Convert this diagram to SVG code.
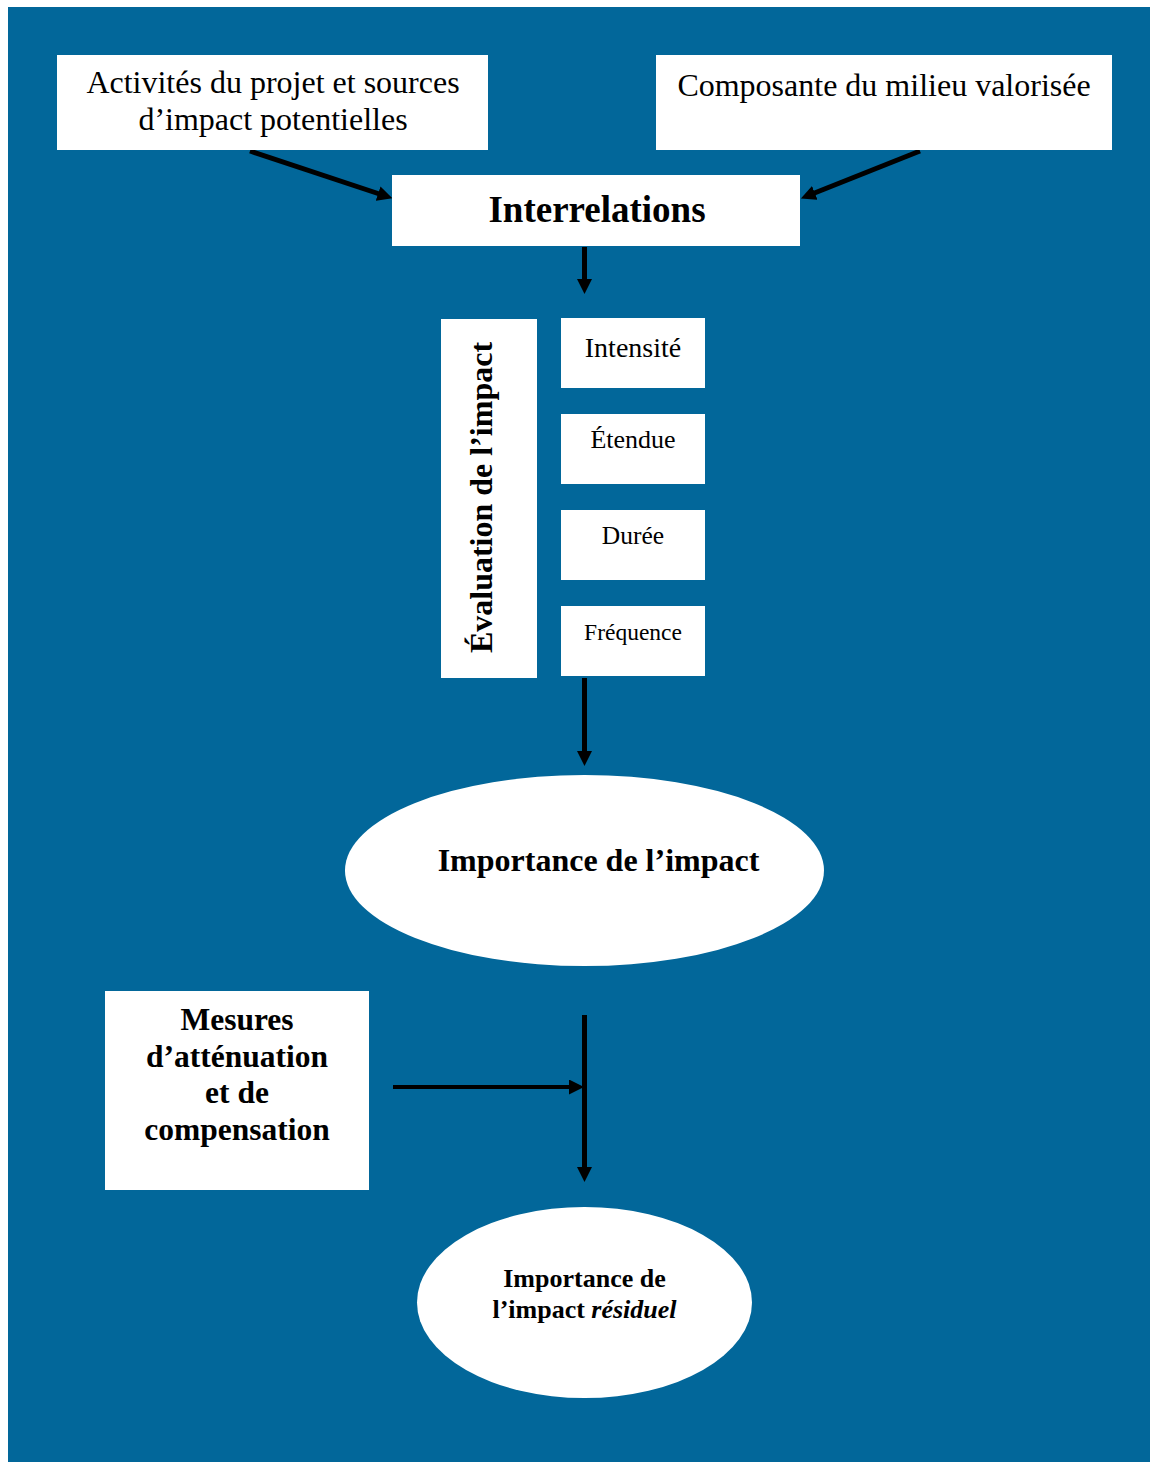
<svg xmlns="http://www.w3.org/2000/svg" width="1150" height="1462" viewBox="0 0 1150 1462">
<defs>
<style>
.box{fill:#ffffff;}
.t{font-family:"Liberation Serif","Times New Roman",serif;fill:#000;text-anchor:middle;}
.b{font-weight:bold;}
.c{stroke:#000;stroke-width:5;fill:none;marker-end:url(#ah);}
</style>
<marker id="ah" markerUnits="userSpaceOnUse" markerWidth="16" markerHeight="16" refX="3" refY="7.5" orient="auto">
<path d="M0,0 L15,7.5 L0,15 z" fill="#000"/>
</marker>
</defs>
<rect x="0" y="0" width="1150" height="1462" fill="#ffffff"/>
<rect x="8" y="7" width="1142" height="1455" fill="#02679A"/>

<g id="connectors">
<line class="c" x1="250" y1="151" x2="381" y2="194.5"/>
<line class="c" x1="920" y1="151" x2="812" y2="194"/>
<line class="c" x1="584.5" y1="247" x2="584.5" y2="282"/>
<line class="c" x1="584.5" y1="678" x2="584.5" y2="754"/>
<line class="c" x1="584.5" y1="1015" x2="584.5" y2="1170"/>
<line class="c" x1="393" y1="1087" x2="572" y2="1087" style="stroke-width:4"/>
</g>

<g id="activites">
<rect class="box" x="57" y="55" width="431" height="95"/>
<text class="t" x="273" y="93" font-size="32">Activités du projet et sources</text>
<text class="t" x="273" y="130" font-size="32">d’impact potentielles</text>
</g>

<g id="composante">
<rect class="box" x="656" y="55" width="456" height="95"/>
<text class="t" x="884" y="96" font-size="32">Composante du milieu valorisée</text>
</g>

<g id="interrelations">
<rect class="box" x="392" y="175" width="408" height="71"/>
<text class="t b" x="597" y="222" font-size="37">Interrelations</text>
</g>

<g id="evaluation">
<rect class="box" x="441" y="319" width="96" height="359"/>
<text class="t b" x="0" y="0" font-size="32" transform="translate(492,497.5) rotate(-90)">Évaluation de l’impact</text>
</g>

<g id="intensite">
<rect class="box" x="561" y="318" width="144" height="70"/>
<text class="t" x="633" y="357" font-size="28">Intensité</text>
</g>

<g id="etendue">
<rect class="box" x="561" y="414" width="144" height="70"/>
<text class="t" x="633" y="448" font-size="26">Étendue</text>
</g>

<g id="duree">
<rect class="box" x="561" y="510" width="144" height="70"/>
<text class="t" x="633" y="544" font-size="25.5">Durée</text>
</g>

<g id="frequence">
<rect class="box" x="561" y="606" width="144" height="70"/>
<text class="t" x="633" y="640" font-size="23.5">Fréquence</text>
</g>

<g id="importance">
<ellipse class="box" cx="584.5" cy="870.5" rx="239.5" ry="95.5"/>
<text class="t b" x="598.5" y="871" font-size="32">Importance de l’impact</text>
</g>

<g id="mesures">
<rect class="box" x="105" y="991" width="264" height="199"/>
<text class="t b" x="237" y="1030" font-size="31.5">Mesures</text>
<text class="t b" x="237" y="1067" font-size="31.5">d’atténuation</text>
<text class="t b" x="237" y="1103" font-size="31.5">et de</text>
<text class="t b" x="237" y="1140" font-size="31.5">compensation</text>
</g>

<g id="residuel">
<ellipse class="box" cx="584.5" cy="1302.5" rx="167.5" ry="95.5"/>
<text class="t b" x="584.5" y="1287" font-size="26">Importance de</text>
<text class="t b" x="584.5" y="1318" font-size="26">l’impact <tspan font-style="italic">résiduel</tspan></text>
</g>
</svg>
